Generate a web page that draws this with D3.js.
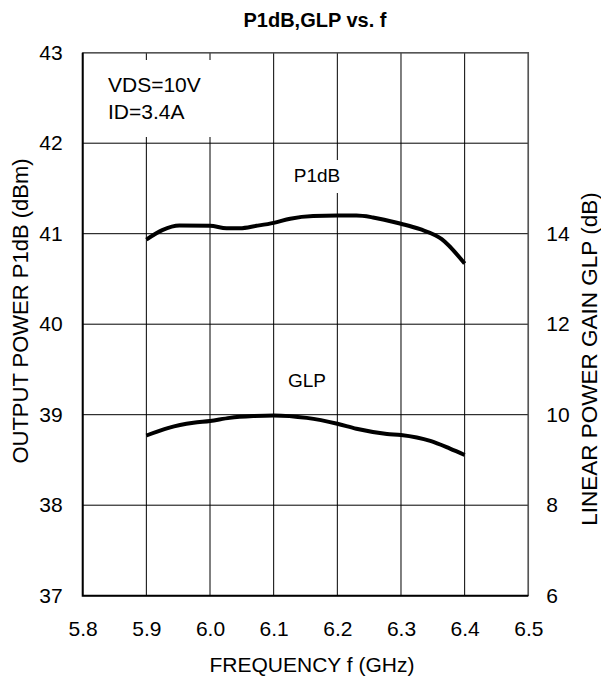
<!DOCTYPE html>
<html><head><meta charset="utf-8">
<script src="https://cdn.jsdelivr.net/npm/d3@7"></script>
<style>body{margin:0;background:#fff}svg{display:block}text{font-family:"Liberation Sans",Arial,sans-serif;fill:#000}</style>
</head><body>
<script>
const freqTicks = [5.8, 5.9, 6.0, 6.1, 6.2, 6.3, 6.4, 6.5];
const leftTicks = [37, 38, 39, 40, 41, 42, 43];
const rightTicks = [6, 8, 10, 12, 14];
const freqP = [5.9, 5.925, 5.952, 6.0, 6.026, 6.047, 6.073, 6.1, 6.126, 6.162, 6.2, 6.23, 6.256, 6.3, 6.33, 6.364, 6.4];
const p1dB  = [40.935, 41.04, 41.09, 41.087, 41.06, 41.06, 41.087, 41.12, 41.166, 41.195, 41.2, 41.2, 41.18, 41.11, 41.05, 40.94, 40.67];
const freqG = [5.9, 5.935, 5.974, 6.0, 6.031, 6.068, 6.1, 6.152, 6.2, 6.23, 6.278, 6.3, 6.346, 6.377, 6.4];
const glp   = [9.54, 9.71, 9.82, 9.86, 9.93, 9.97, 9.985, 9.93, 9.80, 9.69, 9.575, 9.55, 9.42, 9.25, 9.11];

const W = 601, H = 681;
const L = 82.7, R = 528.3, T = 52.7, B = 595.7;
const svg = d3.select("body").append("svg").attr("width", W).attr("height", H);
const x = d3.scaleLinear().domain([5.8, 6.5]).range([L, R]);
const yL = d3.scaleLinear().domain([37, 43]).range([B, T]);
const yR = d3.scaleLinear().domain([6, 18]).range([B, T]);

// gridlines
const g = svg.append("g").attr("stroke", "#000").attr("stroke-width", 1);
freqTicks.forEach(v => g.append("line").attr("x1", x(v)).attr("x2", x(v)).attr("y1", T).attr("y2", B));
leftTicks.forEach(v => g.append("line").attr("x1", L).attr("x2", R).attr("y1", yL(v)).attr("y2", yL(v)));

// label backgrounds
svg.append("rect").attr("x", 96).attr("y", 60).attr("width", 128).attr("height", 77).attr("fill", "#fff");
svg.append("rect").attr("x", 289).attr("y", 160).attr("width", 57).attr("height", 33).attr("fill", "#fff");
svg.append("rect").attr("x", 284).attr("y", 364).attr("width", 46).attr("height", 30).attr("fill", "#fff");

// frame
svg.append("path").attr("d", `M${L},${T}H${R}V${B}`).attr("fill", "none").attr("stroke", "#555").attr("stroke-width", 1.5);
svg.append("path").attr("d", `M${L},${T}V${B}H${R}`).attr("fill", "none").attr("stroke", "#000").attr("stroke-width", 2);

// axes (labels only)
const axL = svg.append("g").attr("transform", `translate(${L},0)`).call(d3.axisLeft(yL).tickValues(leftTicks).tickFormat(d3.format("d")).tickSize(0).tickPadding(20));
const axR = svg.append("g").attr("transform", `translate(${R},0)`).call(d3.axisRight(yR).tickValues(rightTicks).tickFormat(d3.format("d")).tickSize(0).tickPadding(18));
const axB = svg.append("g").attr("transform", `translate(0,${B})`).call(d3.axisBottom(x).tickValues(freqTicks).tickFormat(d3.format(".1f")).tickSize(0).tickPadding(25));
[axL, axR, axB].forEach(a => { a.select(".domain").remove(); a.selectAll("text").attr("font-size", 21).attr("font-family", "Liberation Sans, Arial, sans-serif").attr("fill", "#000"); });

// lines
const lineL = d3.line().x(d => x(d[0])).y(d => yL(d[1])).curve(d3.curveMonotoneX);
const lineR = d3.line().x(d => x(d[0])).y(d => yR(d[1])).curve(d3.curveMonotoneX);
svg.append("path").attr("d", lineL(d3.zip(freqP, p1dB))).attr("fill", "none").attr("stroke", "#000").attr("stroke-width", 4).attr("stroke-linejoin", "round");
svg.append("path").attr("d", lineR(d3.zip(freqG, glp))).attr("fill", "none").attr("stroke", "#000").attr("stroke-width", 4).attr("stroke-linejoin", "round");

// texts
svg.append("text").attr("x", 315).attr("y", 27).attr("text-anchor", "middle").attr("font-size", 20).attr("font-weight", "bold").text("P1dB,GLP vs. f");
svg.append("text").attr("x", 108).attr("y", 92).attr("font-size", 21).text("VDS=10V");
svg.append("text").attr("x", 108).attr("y", 119).attr("font-size", 21).text("ID=3.4A");
svg.append("text").attr("x", 317).attr("y", 182).attr("text-anchor", "middle").attr("font-size", 19).text("P1dB");
svg.append("text").attr("x", 307).attr("y", 387).attr("text-anchor", "middle").attr("font-size", 19).text("GLP");
svg.append("text").attr("x", 312).attr("y", 672).attr("text-anchor", "middle").attr("font-size", 21).text("FREQUENCY f (GHz)");
svg.append("text").attr("transform", "translate(28,311) rotate(-90)").attr("text-anchor", "middle").attr("font-size", 22).text("OUTPUT POWER P1dB (dBm)");
svg.append("text").attr("transform", "translate(597,359) rotate(-90)").attr("text-anchor", "middle").attr("font-size", 22.5).text("LINEAR POWER GAIN GLP (dB)");
</script>
</body></html>
